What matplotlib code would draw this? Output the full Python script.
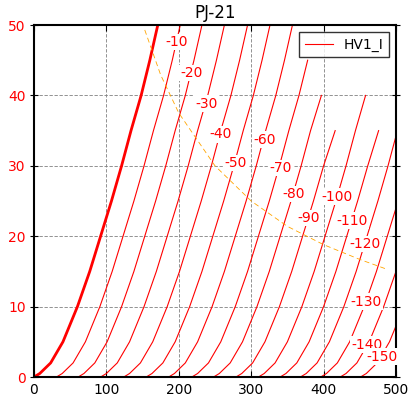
import matplotlib
matplotlib.use('Agg')
import matplotlib.pyplot as plt

# anode current levels (mA), shared by every grid curve
anode_ma = [0, 0, 0.5, 2, 5, 10, 15, 20, 25, 30, 35, 40, 45, 50]

grid_volts = [0, -10, -20, -30, -40, -50, -60, -70, -80, -90, -100, -110, -120, -130, -140, -150]

# plate voltage where each curve reaches the current levels above
plate_v = {
    0:    [0, 0, 8, 23, 40, 60, 77, 92, 107, 121, 134, 148, 160, 171],
    -10:  [0, 31, 39, 54, 71, 91, 108, 123, 138, 152, 165, 179, 191, 202],
    -20:  [0, 61, 69, 84, 101, 121, 138, 153, 168, 182, 195, 209, 221, 232],
    -30:  [0, 92, 100, 115, 132, 152, 169, 184, 199, 213, 226, 240, 252, 263],
    -40:  [0, 124, 132, 147, 164, 184, 201, 216, 231, 245, 258, 272, 284, 295],
    -50:  [0, 155, 163, 178, 195, 215, 232, 247, 262, 276, 289, 303, 315, 326],
    -60:  [0, 186, 194, 209, 226, 246, 263, 278, 293, 307, 320, 334, 346, 357],
    -70:  [0, 218, 226, 241, 258, 278, 295, 310, 325, 339, 352, 366, 378],
    -80:  [0, 248, 256, 271, 288, 308, 325, 340, 355, 369, 382, 397],
    -90:  [0, 279, 287, 302, 319, 339, 356, 371, 386, 400, 416],
    -100: [0, 310, 318, 333, 350, 370, 387, 402, 417, 431, 444, 458],
    -110: [0, 340, 348, 363, 380, 400, 417, 432, 447, 461, 476],
    -120: [0, 368, 376, 391, 408, 428, 445, 460, 475, 489, 502],
    -130: [0, 396, 404, 419, 436, 456, 473, 488, 503],
    -140: [0, 423, 431, 446, 463, 483, 500, 515],
    -150: [0, 451, 459, 474, 491, 511],
}

# where the grid-voltage labels sit
label_v = [197, 217, 238, 258, 278, 318, 340, 358, 380, 418, 439, 457, 459, 460, 480]
label_ma = [47.6, 43.2, 38.8, 34.5, 30.4, 33.7, 29.7, 26.0, 22.6, 25.6, 22.2, 18.9, 10.7, 4.6, 2.9]

# max plate dissipation curve
diss_v = [153, 175, 200, 250, 300, 350, 400, 450, 485]
diss_ma = [49.3, 42.9, 37.5, 30.0, 25.0, 21.4, 18.8, 16.7, 15.4]

fig = plt.figure(figsize=(4.13, 3.99), dpi=100)
ax = fig.add_axes([0.0823, 0.0551, 0.8765, 0.8822])

for g in grid_volts:
    v = plate_v[g]
    ax.plot(v, anode_ma[:len(v)], color='red',
            lw=2 if g == 0 else 0.8,
            label='HV1_I' if g == -10 else None)

ax.plot(diss_v, diss_ma, color='orange', lw=0.6, linestyle=(0, (6, 4)))

for g, x, y in zip(grid_volts[1:], label_v, label_ma):
    ax.text(x, y, str(g), color='red', fontsize=10, ha='center', va='center',
            bbox=dict(facecolor='white', edgecolor='none', pad=1))

ax.set_xlim(0, 500)
ax.set_ylim(0, 50)
ax.set_xticks([0, 100, 200, 300, 400, 500])
ax.set_yticks([0, 10, 20, 30, 40, 50])
ax.grid(True, color='gray', linestyle=(0, (4, 2)), lw=0.6)
ax.set_axisbelow(True)

for s in ax.spines.values():
    s.set_linewidth(1.5)
ax.tick_params(axis='x', direction='in', top=True, length=4, labelsize=10, pad=4)
ax.tick_params(axis='y', direction='inout', right=True, length=6, labelsize=10,
               labelcolor='red', pad=3)

ax.set_title('PJ-21', fontsize=12, pad=5)

leg = ax.legend(loc='upper right', fontsize=10, fancybox=False, borderaxespad=0.5)
leg.get_frame().set_edgecolor('black')
leg.get_frame().set_linewidth(1.0)

fig.savefig('out.png', dpi=100)
